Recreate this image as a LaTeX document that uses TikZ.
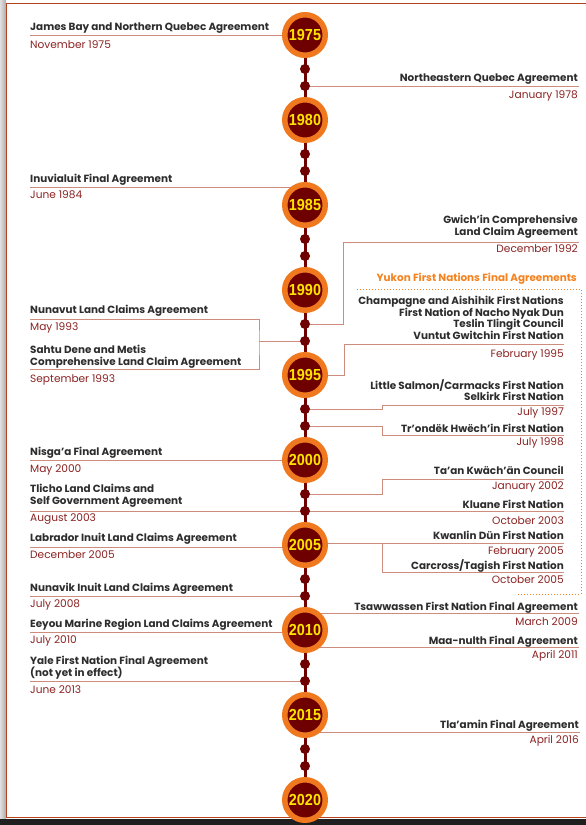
\documentclass[tikz,border=0pt]{standalone}
\usepackage{fontspec}
\setmainfont{Poppins}
\newfontfamily\yearfont{Liberation Sans}
\usepackage{graphicx}
\usetikzlibrary{calc}

\definecolor{framecol}{RGB}{180,65,30}
\definecolor{maroon}{RGB}{110,0,0}
\definecolor{ringorange}{RGB}{240,120,30}
\definecolor{yeartext}{RGB}{255,228,0}
\definecolor{conncol}{RGB}{205,140,125}
\definecolor{datecol}{RGB}{140,35,35}
\definecolor{titlecol}{RGB}{45,45,45}
\definecolor{yukoncol}{RGB}{245,130,30}

\newcommand\yr[1]{\scalebox{0.9}[1]{#1}}
\newcommand\tightlines{\lineskiplimit=-6pt\relax}

\pgfdeclarelayer{frame}
\pgfdeclarelayer{links}
\pgfsetlayers{frame,links,main}

\begin{document}
\begin{tikzpicture}[x=1pt,y=-1pt,
    yearc/.style={circle, fill=maroon, draw=ringorange, line width=5.5pt,
      minimum size=40.5pt, inner sep=0pt, text=yeartext,
      font=\yearfont\bfseries\fontsize{16}{16}\selectfont},
    dot/.style={circle, fill=maroon, minimum size=10pt, inner sep=0pt},
    title/.style={inner sep=0pt, text=titlecol,
      font=\bfseries\fontsize{10.4}{11.5}\selectfont\tightlines},
    date/.style={inner sep=0pt, text=datecol, font=\fontsize{10.6}{11.5}\selectfont},
    conn/.style={draw=conncol, line width=0.8pt},
    axis/.style={draw=maroon, line width=3pt}]
  \useasboundingbox (0,0) rectangle (586,825);

  % frame and shadow
  \begin{pgfonlayer}{frame}
    \fill[left color=gray!25, right color=gray!65] (0,0) rectangle (6,819);
    \fill[black!88] (0,819) rectangle (586,825);
    \fill[white] (6,3) rectangle (586,818);
    \draw[framecol, line width=1.6pt] (586,3.5) -- (6.5,3.5) -- (6.5,817.5) -- (586,817.5);
  \end{pgfonlayer}

  % years
  \node[yearc] (y1975) at (305,35) {\yr{1975}};
  \node[yearc] (y1980) at (305,120) {\yr{1980}};
  \node[yearc] (y1985) at (305,205) {\yr{1985}};
  \node[yearc] (y1990) at (305,290) {\yr{1990}};
  \node[yearc] (y1995) at (305,375) {\yr{1995}};
  \node[yearc] (y2000) at (305,460) {\yr{2000}};
  \node[yearc] (y2005) at (305,545) {\yr{2005}};
  \node[yearc] (y2010) at (305,630) {\yr{2010}};
  \node[yearc] (y2015) at (305,715) {\yr{2015}};
  \node[yearc] (y2020) at (305,800) {\yr{2020}};

  % dots
  \node[dot] (d1977) at (305,69) {};
  \node[dot] (d1978) at (305,86) {};
  \node[dot] (d1982) at (305,154) {};
  \node[dot] (d1983) at (305,171) {};
  \node[dot] (d1987) at (305,239) {};
  \node[dot] (d1988) at (305,256) {};
  \node[dot] (d1992) at (305,324) {};
  \node[dot] (d1993) at (305,341) {};
  \node[dot] (d1997) at (305,409) {};
  \node[dot] (d1998) at (305,426) {};
  \node[dot] (d2002) at (305,494) {};
  \node[dot] (d2003) at (305,511) {};
  \node[dot] (d2007) at (305,579) {};
  \node[dot] (d2008) at (305,596) {};
  \node[dot] (d2012) at (305,664) {};
  \node[dot] (d2013) at (305,681) {};
  \node[dot] (d2017) at (305,749) {};
  \node[dot] (d2018) at (305,766) {};

  % left side
  \node[title, anchor=base west] (jbay) at (30,30.5) {James Bay and Northern Quebec Agreement};
  \node[date, anchor=base west] (jbayd) at (30,48) {November 1975};
  \node[title, anchor=base west] (inuv) at (30,182) {Inuvialuit Final Agreement};
  \node[date, anchor=base west] (inuvd) at (30,198) {June 1984};
  \node[title, anchor=base west] (nunav) at (30,313) {Nunavut Land Claims Agreement};
  \node[date, anchor=base west] (nunavd) at (30,330) {May 1993};
  \node[title, anchor=base west, align=left] (sahtu) at (30,365) {Sahtu Dene and Metis\\Comprehensive Land Claim Agreement};
  \node[date, anchor=base west] (sahtud) at (30,382) {September 1993};
  \node[title, anchor=base west] (nisga) at (30,455) {Nisga’a Final Agreement};
  \node[date, anchor=base west] (nisgad) at (30,472) {May 2000};
  \node[title, anchor=base west, align=left] (tlicho) at (30,504) {Tlicho Land Claims and\\Self Government Agreement};
  \node[date, anchor=base west] (tlichod) at (30,521) {August 2003};
  \node[title, anchor=base west] (labr) at (30,541) {Labrador Inuit Land Claims Agreement};
  \node[date, anchor=base west] (labrd) at (30,558) {December 2005};
  \node[title, anchor=base west] (nunvk) at (30,591) {Nunavik Inuit Land Claims Agreement};
  \node[date, anchor=base west] (nunvkd) at (30,607) {July 2008};
  \node[title, anchor=base west] (eeyou) at (30,627) {Eeyou Marine Region Land Claims Agreement};
  \node[date, anchor=base west] (eeyoud) at (30,643) {July 2010};
  \node[title, anchor=base west, align=left] (yale) at (30,676) {Yale First Nation Final Agreement\\(not yet in effect)};
  \node[date, anchor=base west] (yaled) at (30,693) {June 2013};

  % right side
  \node[title, anchor=base east] (neq) at (578,81) {Northeastern Quebec Agreement};
  \node[date, anchor=base east] (neqd) at (578,98) {January 1978};
  \node[title, anchor=base east, align=right] (gwich) at (578,235) {Gwich’in Comprehensive\\Land Claim Agreement};
  \node[date, anchor=base east] (gwichd) at (578,252) {December 1992};
  \node[title, anchor=base east, text=yukoncol] (yukon) at (577,281) {Yukon First Nations Final Agreements};
  \node[title, anchor=base east, align=right] (champ) at (564,339) {Champagne and Aishihik First Nations\\First Nation of Nacho Nyak Dun\\Teslin Tlingit Council\\Vuntut Gwitchin First Nation};
  \node[date, anchor=base east] (champd) at (564,357) {February 1995};
  \node[title, anchor=base east, align=right] (salmon) at (564,400.5) {Little Salmon/Carmacks First Nation\\Selkirk First Nation};
  \node[date, anchor=base east] (salmond) at (564,415) {July 1997};
  \node[title, anchor=base east] (trond) at (564,432) {Tr’ondëk Hwëch’in First Nation};
  \node[date, anchor=base east] (trondd) at (564,445) {July 1998};
  \node[title, anchor=base east] (taan) at (564,474) {Ta’an Kwäch’än Council};
  \node[date, anchor=base east] (taand) at (564,489) {January 2002};
  \node[title, anchor=base east] (kluane) at (564,508) {Kluane First Nation};
  \node[date, anchor=base east] (kluaned) at (564,524) {October 2003};
  \node[title, anchor=base east] (kwan) at (564,539) {Kwanlin Dün First Nation};
  \node[date, anchor=base east] (kwand) at (564,554) {February 2005};
  \node[title, anchor=base east] (carc) at (564,569) {Carcross/Tagish First Nation};
  \node[date, anchor=base east] (carcd) at (564,583) {October 2005};
  \node[title, anchor=base east] (tsaw) at (578,610) {Tsawwassen First Nation Final Agreement};
  \node[date, anchor=base east] (tsawd) at (578,625) {March 2009};
  \node[title, anchor=base east] (maan) at (578,644) {Maa-nulth Final Agreement};
  \node[date, anchor=base east] (maand) at (578,658) {April 2011};
  \node[title, anchor=base east] (tlaam) at (579,728) {Tla’amin Final Agreement};
  \node[date, anchor=base east] (tlaamd) at (579,743) {April 2016};

  % line ends
  \coordinate (jbayl) at (30,35);
  \coordinate (inuvl) at (30,187);
  \coordinate (nunavl) at (30,319);
  \coordinate (sahtul) at (30,369);
  \coordinate (nsbend) at (259,341);
  \coordinate (nisgal) at (30,460);
  \coordinate (tlichol) at (30,511);
  \coordinate (labrl) at (30,547);
  \coordinate (nunvkl) at (30,596);
  \coordinate (eeyoul) at (30,632);
  \coordinate (yalel) at (30,681);
  \coordinate (neqr) at (579,86);
  \coordinate (gwichr) at (579,242);
  \coordinate (gwichb) at (343,324);
  \coordinate (champr) at (564,344);
  \coordinate (champb) at (344,375);
  \coordinate (salmonr) at (564,405);
  \coordinate (salmonb) at (382,409);
  \coordinate (trondr) at (564,435);
  \coordinate (trondb) at (382,426);
  \coordinate (taanr) at (564,479);
  \coordinate (taanb) at (382,494);
  \coordinate (kluaner) at (564,511);
  \coordinate (kwanr) at (564,543);
  \coordinate (kwanb) at (382,543);
  \coordinate (carcr) at (564,572);
  \coordinate (tsawr) at (579,613);
  \coordinate (maanr) at (579,647);
  \coordinate (tlaamr) at (580,732);

  \begin{pgfonlayer}{links}
    \draw[axis] (y1975.center) -- (y2020.center);
    % left links
    \draw[conn] (jbayl) -- (jbayl -| y1975);
    \draw[conn] (inuvl) -- (inuvl -| y1985);
    \draw[conn] (nunavl) -| (nsbend) |- (sahtul);
    \draw[conn] (nsbend) -- (d1993);
    \draw[conn] (nisgal) -- (nisgal -| y2000);
    \draw[conn] (tlichol) -- (kluaner);
    \draw[conn] (labrl) -- (labrl -| y2005);
    \draw[conn] (nunvkl) -- (d2008);
    \draw[conn] (eeyoul) -- (eeyoul -| y2010);
    \draw[conn] (yalel) -- (d2013);
    % right links
    \draw[conn] (d1978) -- (neqr);
    \draw[conn] (d1992) -- (gwichb) |- (gwichr);
    \draw[conn] (champb -| y1995) -- (champb) |- (champr);
    \draw[conn] (d1997) -- (salmonb) |- (salmonr);
    \draw[conn] (d1998) -- (trondb) |- (trondr);
    \draw[conn] (d2002) -- (taanb) |- (taanr);
    \draw[conn] (kwanr -| y2005) -- (kwanr);
    \draw[conn] (kwanb) |- (carcr);
    \draw[conn] (tsawr -| y2010) -- (tsawr);
    \draw[conn] (maanr -| y2010) -- (maanr);
    \draw[conn] (tlaamr -| y2015) -- (tlaamr);
    % yukon box
    \draw[yukoncol, line width=1pt, dotted] (357,289) -- (581,289) -- (581,594) -- (517,594);
  \end{pgfonlayer}
\end{tikzpicture}
\end{document}
